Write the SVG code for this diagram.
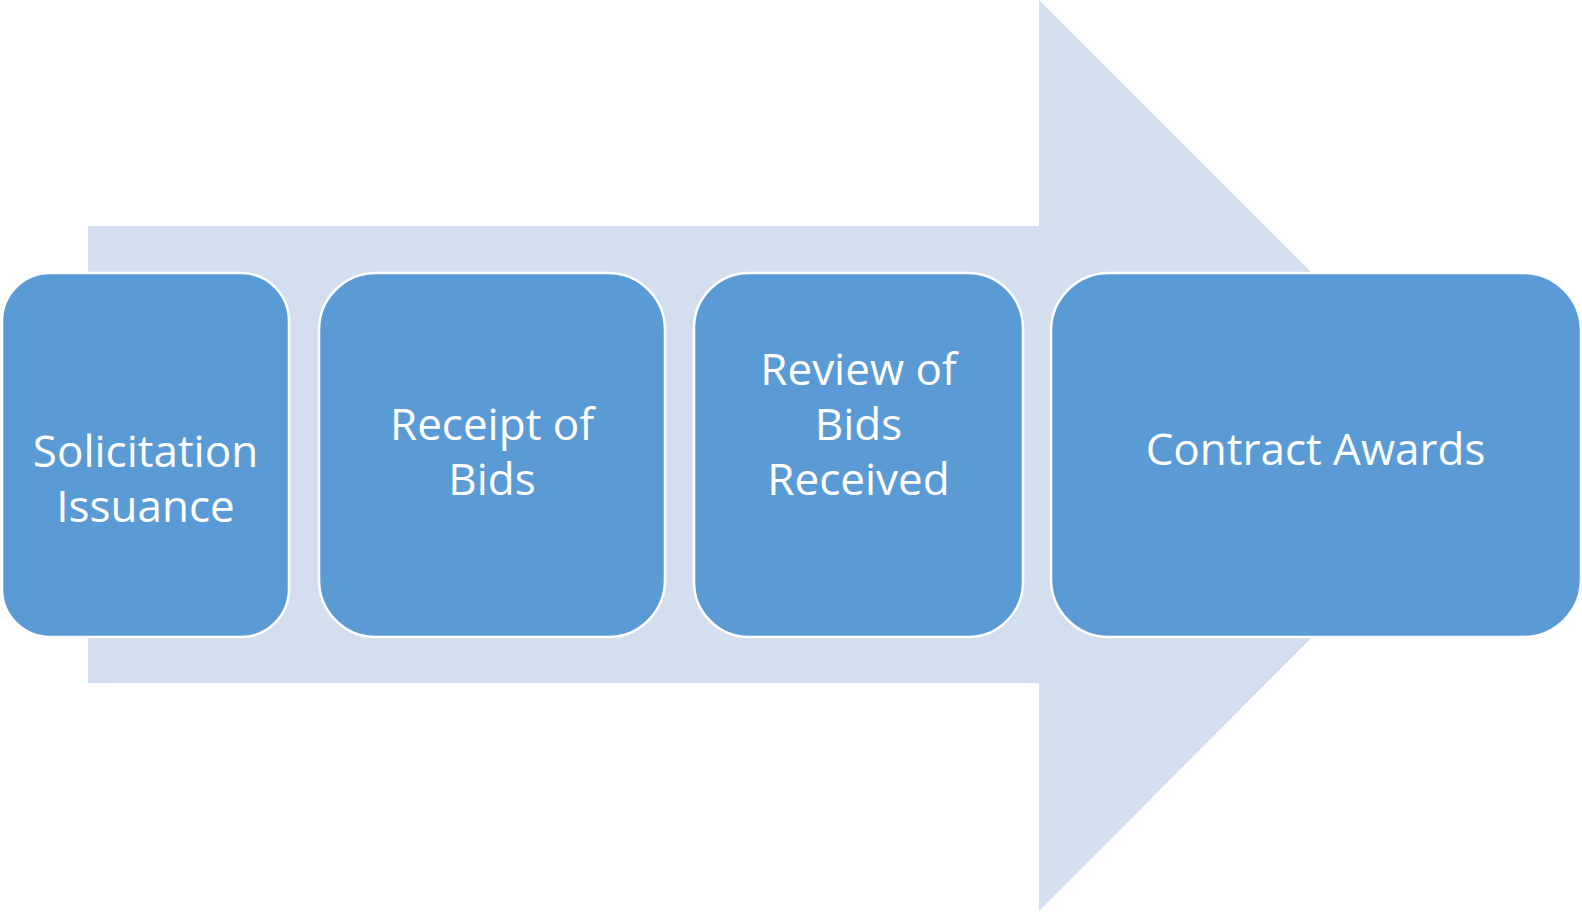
<svg xmlns="http://www.w3.org/2000/svg" width="1582" height="912" viewBox="0 0 1582 912">
<style>
.box{fill:#5B9BD5;stroke:#FFFFFF;stroke-width:2.5}
.lbl{font-family:"Open Sans","Liberation Sans",sans-serif;font-size:44px;fill:#FFFFFF;text-anchor:middle}
</style>
<rect width="1582" height="912" fill="#FFFFFF"/>
<g id="arrow">
<polygon points="88,226 1039,226 1039,0 1494,455 1039,911 1039,683 88,683" fill="#D3DEEF"/>
</g>
<g id="connectors"></g>
<g id="node1">
<rect class="box" x="2" y="273" width="287" height="364" rx="48" ry="48"/>
<text class="lbl" x="145.5" y="467">Solicitation</text>
<text class="lbl" x="145.5" y="522">Issuance</text>
</g>
<g id="node2">
<rect class="box" x="319" y="273" width="346" height="364" rx="57" ry="57"/>
<text class="lbl" x="492" y="440">Receipt of</text>
<text class="lbl" x="492" y="495">Bids</text>
</g>
<g id="node3">
<rect class="box" x="694" y="273" width="329" height="364" rx="55" ry="55"/>
<text class="lbl" x="858.5" y="385">Review of</text>
<text class="lbl" x="858.5" y="440">Bids</text>
<text class="lbl" x="858.5" y="495">Received</text>
</g>
<g id="node4">
<rect class="box" x="1051" y="273" width="530" height="364" rx="58" ry="58"/>
<text class="lbl" x="1315.5" y="465">Contract Awards</text>
</g>
</svg>
